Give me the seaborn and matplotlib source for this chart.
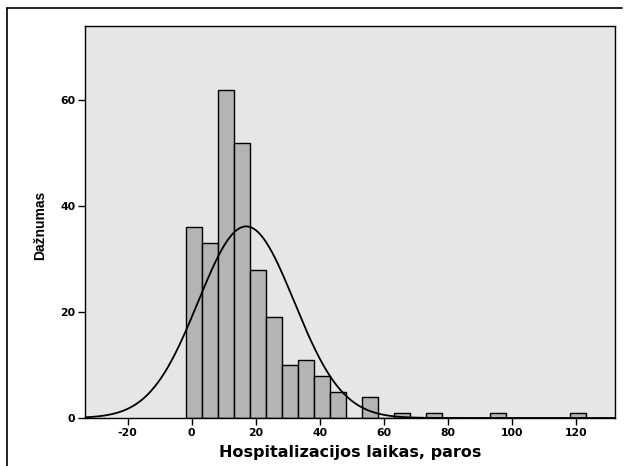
import numpy as np
import pandas as pd
import matplotlib
matplotlib.use("Agg")
import matplotlib.pyplot as plt
from matplotlib.lines import Line2D
import seaborn as sns

# ---- data ----
bin_width = 5.0
first_edge = -1.8
counts = [36, 33, 62, 52, 28, 19, 10, 11, 8, 5, 0, 4, 0, 1, 0, 1, 0, 0, 0, 1, 0, 0, 0, 0, 1]
fit_mean = 17.0
fit_sd = 15.0
x_ticks = [-20, 0, 20, 40, 60, 80, 100, 120]
y_ticks = [0, 20, 40, 60]
x_label = "Hospitalizacijos laikas, paros"
y_label = "Dažnumas"

edges = [float(first_edge + bin_width * i) for i in range(len(counts) + 1)]
centers = [e + bin_width / 2 for e in edges[:-1]]
df = pd.DataFrame({"x": centers, "w": counts})
n_total = sum(counts)

sns.set_style("white")
plt.rcParams["font.family"] = ["DejaVu Sans"]
plt.rcParams["axes.unicode_minus"] = False
plt.rcParams["text.color"] = "black"
plt.rcParams["axes.labelcolor"] = "black"
plt.rcParams["xtick.color"] = "black"
plt.rcParams["ytick.color"] = "black"

fig = plt.figure(figsize=(6.31, 4.66), dpi=100)
ax = fig.add_axes([85 / 631, 1 - 418 / 466, (615 - 85) / 631, (418 - 26) / 466])
ax.set_facecolor("#E6E6E6")

sns.histplot(data=df, x="x", weights="w", bins=edges, ax=ax,
             color="#B4B4B4", edgecolor="black", linewidth=1.0, alpha=1.0)

xlim = (-33.3, 132.1)
grid = np.linspace(xlim[0], xlim[1], 600)
curve = n_total * bin_width / (fit_sd * np.sqrt(2 * np.pi)) * np.exp(-0.5 * ((grid - fit_mean) / fit_sd) ** 2)
sns.lineplot(x=grid, y=curve, ax=ax, color="black", linewidth=1.3)

ax.set_xlim(*xlim)
ax.set_ylim(0, 74)
ax.set_xticks(x_ticks)
ax.set_yticks(y_ticks)
ax.tick_params(axis="both", direction="out", length=5, width=1, colors="black",
               labelsize=7.8, pad=2, bottom=True, left=True)
for lab in ax.get_xticklabels() + ax.get_yticklabels():
    lab.set_fontweight("bold")
for s in ax.spines.values():
    s.set_visible(True)
    s.set_color("black")
    s.set_linewidth(1.0)

ax.set_xlabel(x_label, fontsize=11.5, fontweight="bold", labelpad=5, color="black")
ax.set_ylabel("")
fig.text(40 / 631, 1 - 225 / 466, y_label, rotation=90, ha="center", va="center",
         fontsize=10, fontweight="bold", color="black",
         family=["Liberation Sans Narrow", "Liberation Sans", "DejaVu Sans"])

# outer frame (top and left edges)
fig.add_artist(Line2D([7 / 631, 622 / 631], [1 - 8 / 466, 1 - 8 / 466], color="black", linewidth=1.2))
fig.add_artist(Line2D([7 / 631, 7 / 631], [0, 1 - 8 / 466], color="black", linewidth=1.2))

fig.savefig("out.png", dpi=100)
